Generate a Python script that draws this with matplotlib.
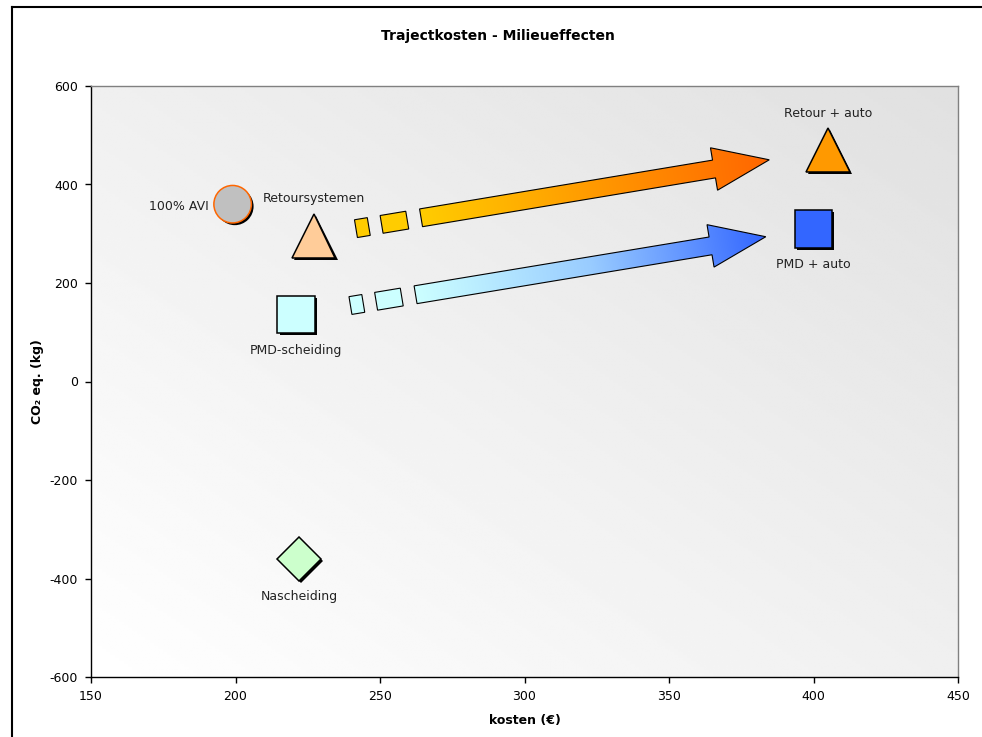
import numpy as np
import matplotlib.pyplot as plt
import matplotlib.patheffects as pe
from matplotlib.colors import LinearSegmentedColormap
from matplotlib.patches import Polygon
from matplotlib.lines import Line2D

plt.rcParams['axes.unicode_minus'] = False

# scenario's: kosten per traject en CO2-effect
scenarios = ['100% AVI', 'Retoursystemen', 'PMD-scheiding', 'Nascheiding',
             'Retour + auto', 'PMD + auto']
kosten = [199, 227, 221, 222, 405, 400]
co2 = [360, 296, 136, -360, 470, 310]

markers = ['o', '^', 's', 'D', '^', 's']
sizes = [27, 31.5, 27, 22.5, 31.5, 27]
faces = ['#C0C0C0', '#FFCC99', '#CCFFFF', '#CCFFCC', '#FF9900', '#3366FF']
edges = ['#FF6600', 'k', 'k', 'k', 'k', 'k']
label_offsets = [(-17, -1.5), (0, 26.5), (0, -26), (0, -27.5), (0, 26.5), (0, -26)]
label_ha = ['right', 'center', 'center', 'center', 'center', 'center']

# pijlen: van scenario -> naar scenario, start (px), lengte (px), kleuren
trajecten = [(1, 4, 43, 419, ['#FFCC00', '#FF9900', '#FF6600']),
             (2, 5, 55, 421, ['#CCFFFF', '#99CCFF', '#3366FF'])]

W, H = 982, 737
fig = plt.figure(figsize=(W / 100, H / 100), dpi=100)
ax = fig.add_axes([91 / W, 60 / H, 867 / W, 591 / H])
ax.set_xlim(150, 450)
ax.set_ylim(-600, 600)
ax.set_autoscale_on(False)

# achtergrond met diagonale grijstint
gx, gy = np.meshgrid(np.linspace(0, 1, 200), np.linspace(0, 1, 200))
bg = 1 - 0.12 * (gx + gy) / 2
ax.imshow(bg, extent=(150, 450, -600, 600), origin='lower', aspect='auto',
          cmap='gray', vmin=0, vmax=1, zorder=0, interpolation='bilinear')


def pijl(i, j, start, length, colors):
    p0 = ax.transData.transform((kosten[i], co2[i]))
    p1 = ax.transData.transform((kosten[j], co2[j]))
    u = (p1 - p0) / np.hypot(*(p1 - p0))
    n = np.array([-u[1], u[0]])
    a = p0 + u * start
    inv = ax.transData.inverted()
    bw, hw, hl, b0 = 9, 21.5, 56, 66

    def pt(s, w):
        return a + u * s + n * w

    for s0, s1 in [(0, 13), (26, 52)]:
        quad = [pt(s0, -bw), pt(s1, -bw), pt(s1, bw), pt(s0, bw)]
        ax.add_patch(Polygon(inv.transform(quad), fc=colors[0], ec='k',
                             lw=0.8, zorder=3))

    body = np.array([pt(b0, -bw), pt(length - hl, -bw), pt(length - hl, -hw),
                     pt(length, 0), pt(length - hl, hw), pt(length - hl, bw),
                     pt(b0, bw)])
    poly = Polygon(inv.transform(body), fc='none', ec='k', lw=0.8, zorder=4)
    ax.add_patch(poly)

    x0, y0 = body.min(0)
    x1, y1 = body.max(0)
    mx, my = np.meshgrid(np.linspace(x0, x1, 400), np.linspace(y0, y1, 120))
    t = ((mx - a[0]) * u[0] + (my - a[1]) * u[1] - b0) / (length - b0)
    cmap = LinearSegmentedColormap.from_list('pijl', colors)
    (dx0, dy0), (dx1, dy1) = inv.transform([(x0, y0), (x1, y1)])
    im = ax.imshow(np.clip(t, 0, 1), cmap=cmap, vmin=0, vmax=1,
                   extent=(dx0, dx1, dy0, dy1), origin='lower', aspect='auto',
                   zorder=3, interpolation='bilinear')
    im.set_clip_path(poly)


for i, j, start, length, colors in trajecten:
    pijl(i, j, start, length, colors)

shadow = [pe.SimplePatchShadow(offset=(1.6, -1.6), shadow_rgbFace='k', alpha=1),
          pe.Normal()]
for k in range(len(scenarios)):
    ax.plot(kosten[k], co2[k], marker=markers[k], ls='none', ms=sizes[k],
            mfc=faces[k], mec=edges[k], mew=1.1, zorder=5, path_effects=shadow)
    ax.annotate(scenarios[k], (kosten[k], co2[k]), xytext=label_offsets[k],
                textcoords='offset points', ha=label_ha[k], va='center',
                fontsize=9, color='#222222', zorder=6)

ax.set_xticks(np.arange(150, 451, 50))
ax.set_yticks(np.arange(-600, 601, 200))
ax.tick_params(direction='out', length=4.5, width=1, labelsize=9,
               colors='k', pad=5)
for s in ['left', 'bottom']:
    ax.spines[s].set_color('k')
    ax.spines[s].set_linewidth(1)
for s in ['top', 'right']:
    ax.spines[s].set_color('#808080')
    ax.spines[s].set_linewidth(1)

ax.set_xlabel('kosten (€)', fontsize=9, fontweight='bold', labelpad=8)
ax.set_ylabel('CO₂ eq. (kg)', fontsize=9, fontweight='bold', labelpad=4)
fig.text(498 / W, 1 - 36 / H, 'Trajectkosten - Milieueffecten', ha='center',
         va='center', fontsize=10, fontweight='bold')

# kader van het diagramgebied
fig.add_artist(Line2D([12 / W, 12 / W], [0, 1 - 7 / H], color='k', lw=1.5))
fig.add_artist(Line2D([12 / W, 1], [1 - 7 / H, 1 - 7 / H], color='k', lw=1.5))

fig.savefig('out.png', dpi=100)
